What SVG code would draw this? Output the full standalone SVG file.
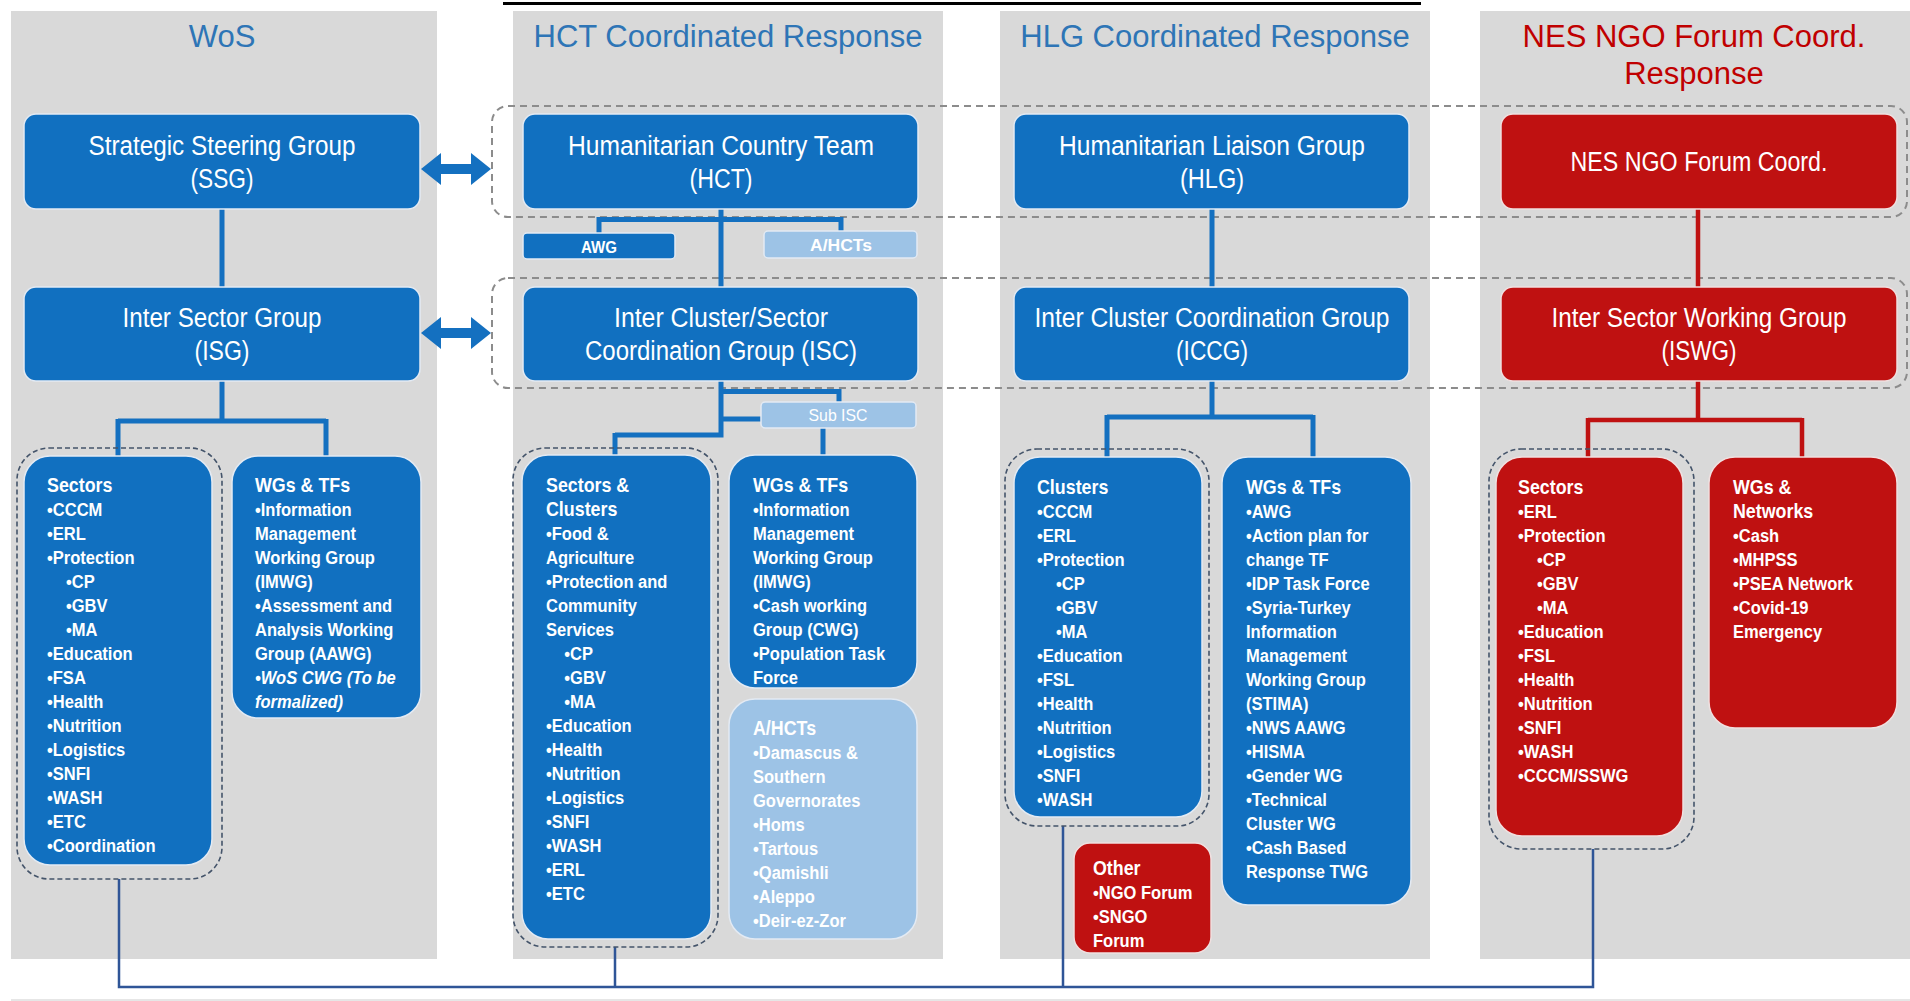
<svg xmlns="http://www.w3.org/2000/svg" width="1910" height="1001" viewBox="0 0 1910 1001">
<style>
.panel{fill:#d9d9d9}
.pt{font-family:"Liberation Sans",Arial,sans-serif;font-size:31px;text-anchor:middle;fill:#2e75b6}
.ptr{fill:#c00000}
.blue{fill:#1170c0;stroke:#e3eaf3;stroke-width:1.5}
.red{fill:#bf1111;stroke:#f0e0e0;stroke-width:1.5}
.lb{fill:#9dc3e6;stroke:#e3eaf3;stroke-width:1.5}
.t{font-family:"Liberation Sans Narrow","Liberation Sans",Arial,sans-serif;font-size:27px;fill:#fff;text-anchor:middle}
.s{font-family:"Liberation Sans Narrow","Liberation Sans",Arial,sans-serif;font-size:17px;fill:#fff;text-anchor:middle}
.l{font-family:"Liberation Sans",Arial,sans-serif;font-weight:bold;font-size:19px;fill:#fff}
.h{font-size:20.5px}
.i{font-style:italic}
.rowdash{fill:none;stroke:#8c8c8c;stroke-width:2;stroke-dasharray:7 5}
.grpdash{fill:none;stroke:#44546a;stroke-width:1.6;stroke-dasharray:5 3}
.cb{stroke:#1470c0;stroke-width:5;fill:none}
.cr{stroke:#bf1111;stroke-width:4.5;fill:none}
.cn{stroke:#2f5597;stroke-width:2.5;fill:none}
.arr{fill:#1470c0}
</style>

<g id="panels">
<rect x="503" y="2" width="918" height="3" fill="#000"/>
<rect class="panel" x="11" y="11" width="426" height="948"/>
<rect class="panel" x="513" y="11" width="430" height="948"/>
<rect class="panel" x="1000" y="11" width="430" height="948"/>
<rect class="panel" x="1480" y="11" width="430" height="948"/>
<rect x="11" y="999" width="1899" height="2" fill="#e6e6e6"/>
<text class="pt" x="222" y="47">WoS</text>
<text class="pt" x="728" y="47">HCT Coordinated Response</text>
<text class="pt" x="1215" y="47">HLG Coordinated Response</text>
<text class="pt ptr" x="1694" y="47">NES NGO Forum Coord.</text>
<text class="pt ptr" x="1694" y="84">Response</text>
</g>

<g id="row-groups">
<rect class="rowdash" x="492" y="106" width="1415" height="111" rx="16"/>
<rect class="rowdash" x="492" y="278" width="1415" height="110" rx="16"/>
</g>

<g id="connectors">
<path class="cb" d="M222 209V287M222 381V421M118 421H326M118 419V456M326 419V456"/>
<path class="cb" d="M721 209V287M599 219.5H841M599 217V233M841 217V231"/>
<path class="cb" d="M721 380V437M721 391.5H839M839 389V402M721 419H762M615 435H723.5M615 433V455M823 428V455"/>
<path class="cb" d="M1212 209V287M1212 381V417M1107 417H1313M1107 415V457M1313 415V457"/>
<path class="cr" d="M1698 209V287M1698 380V420M1588 420H1802M1588 418V457M1802 418V457"/>
<polygon class="arr" points="421,169 441,153 441,164 471,164 471,153 491,169 471,185 471,174 441,174 441,185"/>
<polygon class="arr" points="421,333 441,317 441,328 471,328 471,317 491,333 471,349 471,338 441,338 441,349"/>
<path class="cn" d="M119 879V987H1593V849M615 947V987M1063 826V987"/>
</g>

<g id="sector-groups">
<rect class="grpdash" x="17" y="448" width="205" height="431" rx="32"/>
<rect class="grpdash" x="513" y="448" width="205" height="499" rx="32"/>
<rect class="grpdash" x="1005" y="449" width="204" height="377" rx="32"/>
<rect class="grpdash" x="1489" y="449" width="205" height="400" rx="32"/>
</g>

<g id="ssg">
<rect class="blue" x="24" y="114" width="396" height="95" rx="12"/>
<text class="t" x="222" y="155" textLength="267" lengthAdjust="spacingAndGlyphs">Strategic Steering Group</text>
<text class="t" x="222" y="188" textLength="63" lengthAdjust="spacingAndGlyphs">(SSG)</text>
</g>
<g id="hct">
<rect class="blue" x="523" y="114" width="395" height="95" rx="12"/>
<text class="t" x="721" y="155" textLength="306" lengthAdjust="spacingAndGlyphs">Humanitarian Country Team</text>
<text class="t" x="721" y="188" textLength="63" lengthAdjust="spacingAndGlyphs">(HCT)</text>
</g>
<g id="hlg">
<rect class="blue" x="1014" y="114" width="395" height="95" rx="12"/>
<text class="t" x="1212" y="155" textLength="306" lengthAdjust="spacingAndGlyphs">Humanitarian Liaison Group</text>
<text class="t" x="1212" y="188" textLength="64" lengthAdjust="spacingAndGlyphs">(HLG)</text>
</g>
<g id="nes">
<rect class="red" x="1501" y="114" width="396" height="95" rx="12"/>
<text class="t" x="1699" y="171" textLength="257" lengthAdjust="spacingAndGlyphs">NES NGO Forum Coord.</text>
</g>

<g id="isg">
<rect class="blue" x="24" y="287" width="396" height="94" rx="12"/>
<text class="t" x="222" y="327" textLength="199" lengthAdjust="spacingAndGlyphs">Inter Sector Group</text>
<text class="t" x="222" y="360" textLength="55" lengthAdjust="spacingAndGlyphs">(ISG)</text>
</g>
<g id="isc">
<rect class="blue" x="523" y="287" width="395" height="94" rx="12"/>
<text class="t" x="721" y="327" textLength="214" lengthAdjust="spacingAndGlyphs">Inter Cluster/Sector</text>
<text class="t" x="721" y="360" textLength="272" lengthAdjust="spacingAndGlyphs">Coordination Group (ISC)</text>
</g>
<g id="iccg">
<rect class="blue" x="1014" y="287" width="395" height="94" rx="12"/>
<text class="t" x="1212" y="327" textLength="355" lengthAdjust="spacingAndGlyphs">Inter Cluster Coordination Group</text>
<text class="t" x="1212" y="360" textLength="72" lengthAdjust="spacingAndGlyphs">(ICCG)</text>
</g>
<g id="iswg">
<rect class="red" x="1501" y="287" width="396" height="94" rx="12"/>
<text class="t" x="1699" y="327" textLength="295" lengthAdjust="spacingAndGlyphs">Inter Sector Working Group</text>
<text class="t" x="1699" y="360" textLength="75" lengthAdjust="spacingAndGlyphs">(ISWG)</text>
</g>

<g id="awg">
<rect class="blue" x="523" y="233" width="152" height="26" rx="4"/>
<text class="s" x="599" y="253" font-weight="bold" textLength="36" lengthAdjust="spacingAndGlyphs">AWG</text>
</g>
<g id="ahcts-small">
<rect class="lb" x="764" y="231" width="153" height="27" rx="4"/>
<text class="s" x="841" y="251" font-weight="bold" textLength="62" lengthAdjust="spacingAndGlyphs">A/HCTs</text>
</g>
<g id="sub-isc">
<rect class="lb" x="761" y="402" width="155" height="26" rx="4"/>
<text class="s" x="838" y="421" textLength="59" lengthAdjust="spacingAndGlyphs">Sub ISC</text>
</g>

<g id="wos-sectors">
<rect class="blue" x="24" y="456" width="188" height="409" rx="26"/>
<text class="l" transform="translate(47 0) scale(0.87 1)"><tspan class="h" x="0" y="492">Sectors</tspan><tspan x="0" dy="24">•CCCM</tspan><tspan x="0" dy="24">•ERL</tspan><tspan x="0" dy="24">•Protection</tspan><tspan x="21.8" dy="24">•CP</tspan><tspan x="21.8" dy="24">•GBV</tspan><tspan x="21.8" dy="24">•MA</tspan><tspan x="0" dy="24">•Education</tspan><tspan x="0" dy="24">•FSA</tspan><tspan x="0" dy="24">•Health</tspan><tspan x="0" dy="24">•Nutrition</tspan><tspan x="0" dy="24">•Logistics</tspan><tspan x="0" dy="24">•SNFI</tspan><tspan x="0" dy="24">•WASH</tspan><tspan x="0" dy="24">•ETC</tspan><tspan x="0" dy="24">•Coordination</tspan></text>
</g>
<g id="wos-wgs">
<rect class="blue" x="232" y="456" width="189" height="262" rx="26"/>
<text class="l" transform="translate(255 0) scale(0.87 1)"><tspan class="h" x="0" y="492">WGs &amp; TFs</tspan><tspan x="0" dy="24">•Information</tspan><tspan x="0" dy="24">Management</tspan><tspan x="0" dy="24">Working Group</tspan><tspan x="0" dy="24">(IMWG)</tspan><tspan x="0" dy="24">•Assessment and</tspan><tspan x="0" dy="24">Analysis Working</tspan><tspan x="0" dy="24">Group (AAWG)</tspan><tspan class="i" x="0" dy="24">•WoS CWG (To be</tspan><tspan class="i" x="0" dy="24">formalized)</tspan></text>
</g>

<g id="hct-sectors">
<rect class="blue" x="522" y="455" width="189" height="484" rx="26"/>
<text class="l" transform="translate(546 0) scale(0.87 1)"><tspan class="h" x="0" y="492">Sectors &amp;</tspan><tspan class="h" x="0" dy="24">Clusters</tspan><tspan x="0" dy="24">•Food &amp;</tspan><tspan x="0" dy="24">Agriculture</tspan><tspan x="0" dy="24">•Protection and</tspan><tspan x="0" dy="24">Community</tspan><tspan x="0" dy="24">Services</tspan><tspan x="21" dy="24">•CP</tspan><tspan x="21" dy="24">•GBV</tspan><tspan x="21" dy="24">•MA</tspan><tspan x="0" dy="24">•Education</tspan><tspan x="0" dy="24">•Health</tspan><tspan x="0" dy="24">•Nutrition</tspan><tspan x="0" dy="24">•Logistics</tspan><tspan x="0" dy="24">•SNFI</tspan><tspan x="0" dy="24">•WASH</tspan><tspan x="0" dy="24">•ERL</tspan><tspan x="0" dy="24">•ETC</tspan></text>
</g>
<g id="hct-wgs">
<rect class="blue" x="729" y="455" width="188" height="233" rx="26"/>
<text class="l" transform="translate(753 0) scale(0.87 1)"><tspan class="h" x="0" y="492">WGs &amp; TFs</tspan><tspan x="0" dy="24">•Information</tspan><tspan x="0" dy="24">Management</tspan><tspan x="0" dy="24">Working Group</tspan><tspan x="0" dy="24">(IMWG)</tspan><tspan x="0" dy="24">•Cash working</tspan><tspan x="0" dy="24">Group (CWG)</tspan><tspan x="0" dy="24">•Population Task</tspan><tspan x="0" dy="24">Force</tspan></text>
</g>
<g id="hct-ahcts">
<rect class="lb" x="729" y="699" width="188" height="240" rx="26"/>
<text class="l" fill="#f4f8fc" transform="translate(753 0) scale(0.87 1)"><tspan class="h" x="0" y="735">A/HCTs</tspan><tspan x="0" dy="24">•Damascus &amp;</tspan><tspan x="0" dy="24">Southern</tspan><tspan x="0" dy="24">Governorates</tspan><tspan x="0" dy="24">•Homs</tspan><tspan x="0" dy="24">•Tartous</tspan><tspan x="0" dy="24">•Qamishli</tspan><tspan x="0" dy="24">•Aleppo</tspan><tspan x="0" dy="24">•Deir-ez-Zor</tspan></text>
</g>

<g id="hlg-clusters">
<rect class="blue" x="1014" y="457" width="188" height="360" rx="26"/>
<text class="l" transform="translate(1037 0) scale(0.87 1)"><tspan class="h" x="0" y="494">Clusters</tspan><tspan x="0" dy="24">•CCCM</tspan><tspan x="0" dy="24">•ERL</tspan><tspan x="0" dy="24">•Protection</tspan><tspan x="21.8" dy="24">•CP</tspan><tspan x="21.8" dy="24">•GBV</tspan><tspan x="21.8" dy="24">•MA</tspan><tspan x="0" dy="24">•Education</tspan><tspan x="0" dy="24">•FSL</tspan><tspan x="0" dy="24">•Health</tspan><tspan x="0" dy="24">•Nutrition</tspan><tspan x="0" dy="24">•Logistics</tspan><tspan x="0" dy="24">•SNFI</tspan><tspan x="0" dy="24">•WASH</tspan></text>
</g>
<g id="hlg-wgs">
<rect class="blue" x="1222" y="457" width="189" height="448" rx="26"/>
<text class="l" transform="translate(1246 0) scale(0.87 1)"><tspan class="h" x="0" y="494">WGs &amp; TFs</tspan><tspan x="0" dy="24">•AWG</tspan><tspan x="0" dy="24">•Action plan for</tspan><tspan x="0" dy="24">change TF</tspan><tspan x="0" dy="24">•IDP Task Force</tspan><tspan x="0" dy="24">•Syria-Turkey</tspan><tspan x="0" dy="24">Information</tspan><tspan x="0" dy="24">Management</tspan><tspan x="0" dy="24">Working Group</tspan><tspan x="0" dy="24">(STIMA)</tspan><tspan x="0" dy="24">•NWS AAWG</tspan><tspan x="0" dy="24">•HISMA</tspan><tspan x="0" dy="24">•Gender WG</tspan><tspan x="0" dy="24">•Technical</tspan><tspan x="0" dy="24">Cluster WG</tspan><tspan x="0" dy="24">•Cash Based</tspan><tspan x="0" dy="24">Response TWG</tspan></text>
</g>
<g id="hlg-other">
<rect class="red" x="1074" y="843" width="137" height="110" rx="16"/>
<text class="l" transform="translate(1093 0) scale(0.87 1)"><tspan class="h" x="0" y="875">Other</tspan><tspan x="0" dy="24">•NGO Forum</tspan><tspan x="0" dy="24">•SNGO</tspan><tspan x="0" dy="24">Forum</tspan></text>
</g>

<g id="nes-sectors">
<rect class="red" x="1496" y="457" width="187" height="379" rx="26"/>
<text class="l" transform="translate(1518 0) scale(0.87 1)"><tspan class="h" x="0" y="494">Sectors</tspan><tspan x="0" dy="24">•ERL</tspan><tspan x="0" dy="24">•Protection</tspan><tspan x="21.8" dy="24">•CP</tspan><tspan x="21.8" dy="24">•GBV</tspan><tspan x="21.8" dy="24">•MA</tspan><tspan x="0" dy="24">•Education</tspan><tspan x="0" dy="24">•FSL</tspan><tspan x="0" dy="24">•Health</tspan><tspan x="0" dy="24">•Nutrition</tspan><tspan x="0" dy="24">•SNFI</tspan><tspan x="0" dy="24">•WASH</tspan><tspan x="0" dy="24">•CCCM/SSWG</tspan></text>
</g>
<g id="nes-wgs">
<rect class="red" x="1709" y="457" width="188" height="271" rx="26"/>
<text class="l" transform="translate(1733 0) scale(0.87 1)"><tspan class="h" x="0" y="494">WGs &amp;</tspan><tspan class="h" x="0" dy="24">Networks</tspan><tspan x="0" dy="24">•Cash</tspan><tspan x="0" dy="24">•MHPSS</tspan><tspan x="0" dy="24">•PSEA Network</tspan><tspan x="0" dy="24">•Covid-19</tspan><tspan x="0" dy="24">Emergency</tspan></text>
</g>
</svg>
